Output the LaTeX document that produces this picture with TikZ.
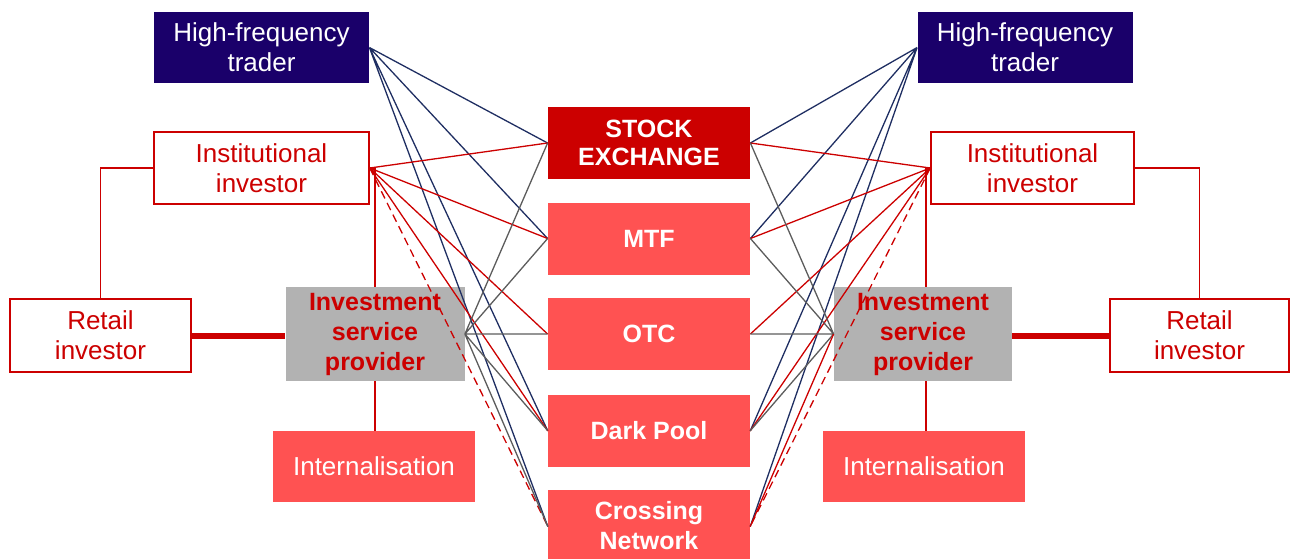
\documentclass[tikz,border=0pt]{standalone}
\usepackage{fontspec}
\setmainfont{Liberation Sans}
\usepackage{xcolor}
\usepackage{tikz}

\definecolor{hftblue}{RGB}{26,0,106}
\definecolor{navyline}{RGB}{31,46,98}
\definecolor{exred}{RGB}{204,0,0}
\definecolor{venuered}{RGB}{255,82,82}
\definecolor{ispgray}{RGB}{178,178,178}
\definecolor{grayline}{RGB}{92,92,92}

\tikzset{
	box/.style = {rectangle, inner sep = 0, align = center, font = \fontsize{13}{15}\selectfont},
	trader/.style = {box, fill = hftblue, text = white, minimum width = 107.5pt, minimum height = 35.5pt},
	investor/.style = {box, draw = exred, line width = 0.75pt, fill = white, text = exred, minimum height = 36pt},
	venue/.style = {box, fill = venuered, text = white, minimum width = 101pt, minimum height = 36pt, font = \fontsize{12.5}{15}\selectfont\bfseries},
	provider/.style = {box, fill = ispgray, text = exred, minimum width = 89.5pt, minimum height = 47pt, font = \fontsize{12.5}{15}\selectfont\bfseries},
	internal/.style = {box, fill = venuered, text = white, minimum width = 101pt, minimum height = 35.5pt},
	navy link/.style = {navyline, line width = 0.65pt},
	red link/.style = {exred, line width = 0.65pt},
	gray link/.style = {grayline, line width = 0.65pt},
	tie/.style = {exred, line width = 0.75pt},
}

\begin{document}
\begin{tikzpicture}[x = 0.5pt, y = -0.5pt]
		\useasboundingbox (0,0) rectangle (1294,558);

		% trading venues in the middle
		\node[venue, fill = exred, font = \fontsize{12.5}{14}\selectfont\bfseries] (se) at (649,143) {STOCK\\EXCHANGE};
		\node[venue] (mtf) at (649,238.5) {MTF};
		\node[venue] (otc) at (649,334) {OTC};
		\node[venue] (dark) at (649,430.5) {Dark Pool};
		\node[venue] (cross) at (649,526) {Crossing\\Network};

		% left side
		\node[trader] (hftL) at (261.5,47.5) {High-frequency\\trader};
		\node[investor, minimum width = 107.5pt] (instL) at (261.5,168) {Institutional\\investor};
		\node[investor, minimum width = 90.5pt, minimum height = 36.5pt] (retailL) at (100.5,335.5) {Retail\\investor};
		\node[provider] (ispL) at (375,334) {Investment\\service\\provider};
		\node[internal] (intL) at (374,466.5) {Internalisation};

		% right side
		\node[trader] (hftR) at (1025,47.5) {High-frequency\\trader};
		\node[investor, minimum width = 101.5pt] (instR) at (1032.5,168) {Institutional\\investor};
		\node[investor, minimum width = 89.5pt, minimum height = 36.5pt] (retailR) at (1199.5,335.5) {Retail\\investor};
		\node[provider, minimum width = 89pt] (ispR) at (923,334) {Investment\\service\\provider};
		\node[internal] (intR) at (924,466.5) {Internalisation};

		% investors to providers
		\draw[tie] (retailL.north) |- (instL.west);
		\draw[tie] (instL.east) -| (ispL.north);
		\draw[tie] (ispL.south) -- (ispL.south |- intL.north);
		\draw[exred, line width = 3pt] (retailL.east) -- (ispL.west |- retailL.east);

		\draw[tie] (retailR.north) |- (instR.east);
		\draw[tie] (instR.west) -| ([xshift = 1.5pt]ispR.north);
		\draw[tie] ([xshift = 1.5pt]ispR.south) -- ([xshift = 1.5pt]ispR.south |- intR.north);
		\draw[exred, line width = 3pt] (retailR.west) -- (ispR.east |- retailR.west);

		% links to the venues, left
		\begin{scope}[shorten >= -0.3pt]
			\draw[navy link] (hftL.east) -- (se.west) (hftL.east) -- (mtf.west)
				(hftL.east) -- (dark.west) (hftL.east) -- (cross.west);
			\draw[red link] (instL.east) -- (se.west) (instL.east) -- (mtf.west)
				(instL.east) -- (otc.west) (instL.east) -- (dark.west);
			\draw[red link, dash pattern = on 4pt off 2.5pt] (instL.east) -- (cross.west);
			\draw[gray link] (ispL.east) -- (se.west) (ispL.east) -- (mtf.west)
				(ispL.east) -- (otc.west) (ispL.east) -- (dark.west) (ispL.east) -- (cross.west);
		\end{scope}

		% links to the venues, right
		\begin{scope}[shorten >= -0.3pt]
			\draw[navy link] (hftR.west) -- (se.east) (hftR.west) -- (mtf.east)
				(hftR.west) -- (dark.east) (hftR.west) -- (cross.east);
			\draw[red link] (instR.west) -- (se.east) (instR.west) -- (mtf.east)
				(instR.west) -- (otc.east) (instR.west) -- (dark.east);
			\draw[red link, dash pattern = on 4pt off 2.5pt] (instR.west) -- (cross.east);
			\draw[gray link] (ispR.west) -- (se.east) (ispR.west) -- (mtf.east)
				(ispR.west) -- (otc.east) (ispR.west) -- (dark.east);
			\draw[red link] (ispR.west) -- (cross.east);
		\end{scope}
	\end{tikzpicture}
\end{document}
